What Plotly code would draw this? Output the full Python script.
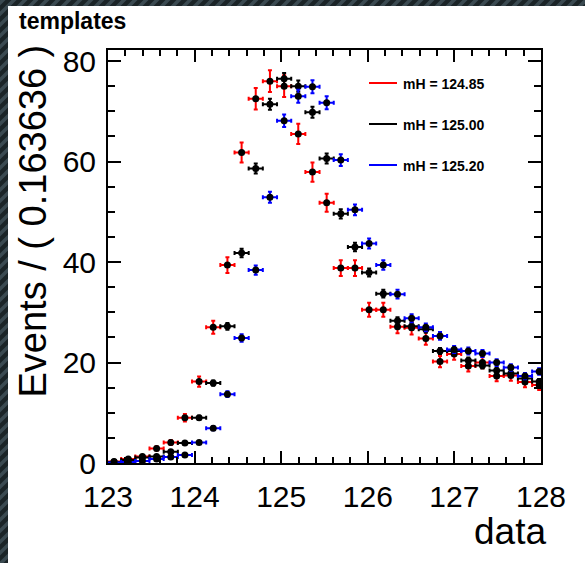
import plotly.graph_objects as go

# ---------------- data ----------------
bin_centers = [123.070, 123.234, 123.397, 123.561, 123.725, 123.888, 124.052,
               124.215, 124.379, 124.543, 124.706, 124.870, 125.034, 125.197,
               125.361, 125.525, 125.688, 125.852, 126.015, 126.179, 126.343,
               126.506, 126.670, 126.834, 126.997, 127.161, 127.324, 127.488,
               127.652, 127.815, 127.979]
bin_half_width = 0.0818

red_y = [0.3, 0.8, 1.3, 2.9, 4.1, 9.0, 16.2, 27.0, 39.4, 61.8, 72.5, 76.0, 75.0,
         65.5, 57.9, 51.8, 38.8, 38.8, 30.5, 30.5, 27.1, 26.9, 24.8, 20.2, 21.7,
         19.3, 20.0, 17.3, 17.4, 16.1, 15.5]
red_err = [0.14, 0.22, 0.29, 0.43, 0.5, 0.75, 1.0, 1.3, 1.57, 1.97, 2.13, 2.18,
           2.17, 2.02, 1.9, 1.8, 1.56, 1.56, 1.38, 1.38, 1.3, 1.3, 1.25, 1.12,
           1.17, 1.1, 1.12, 1.04, 1.04, 1.0, 0.99]

black_y = [0.2, 0.6, 1.1, 1.3, 2.25, 4.0, 9.0, 15.9, 27.2, 41.8, 58.6, 71.4, 76.5,
           75.0, 69.8, 60.6, 49.6, 43.0, 37.9, 33.7, 28.3, 27.2, 26.6, 22.3, 22.3,
           20.4, 19.4, 18.4, 17.8, 16.8, 16.2]
black_err = [0.06, 0.1, 0.14, 0.15, 0.2, 0.26, 0.39, 0.52, 0.68, 0.84, 1.0, 1.1,
             1.14, 1.13, 1.09, 1.01, 0.92, 0.85, 0.8, 0.76, 0.69, 0.68, 0.67, 0.61,
             0.61, 0.59, 0.57, 0.56, 0.55, 0.53, 0.52]

blue_y = [0.1, 0.2, 0.4, 0.8, 1.2, 1.6, 4.1, 6.9, 13.7, 24.9, 38.4, 52.9, 68.1,
          73.0, 74.9, 71.7, 60.3, 50.4, 43.7, 39.4, 33.6, 28.8, 27.0, 25.3, 22.6,
          22.3, 21.8, 20.0, 19.0, 17.3, 18.2]
blue_err = [0.05, 0.07, 0.09, 0.13, 0.16, 0.19, 0.3, 0.39, 0.56, 0.75, 0.93, 1.09,
            1.24, 1.28, 1.3, 1.27, 1.17, 1.07, 0.99, 0.94, 0.87, 0.81, 0.78, 0.75,
            0.71, 0.71, 0.7, 0.67, 0.65, 0.62, 0.64]

series_labels = ["mH = 124.85", "mH = 125.00", "mH = 125.20"]
series_colors = ["#ff0000", "#000000", "#0000ff"]
x_range = [123, 128]
y_range = [0, 82.2]
title_text = "templates"
x_title = "data"
y_title = "Events / ( 0.163636 )"

# ---------------- layout geometry ----------------
W, H = 585, 563
L, R, T, B = 108, 44, 50, 100
PW, PH = W - L - R, H - T - B
FONT = "Liberation Sans, Arial, Helvetica, sans-serif"


def X(px):
    return (px - L) / PW


def Y(py):
    return (H - B - py) / PH


fig = go.Figure()
for ys, es, col, lab in zip([red_y, black_y, blue_y], [red_err, black_err, blue_err],
                            series_colors, series_labels):
    fig.add_trace(go.Scatter(
        x=bin_centers, y=ys, mode="markers", name=lab, showlegend=False,
        marker=dict(color="black", size=7, symbol="circle"),
        error_y=dict(type="data", array=es, visible=True, color=col, thickness=2, width=2),
        error_x=dict(type="constant", value=bin_half_width, visible=True, color=col,
                     thickness=2, width=2),
    ))

shapes = []
# hatched canvas border
for o in range(-20, W + H + 40, 11):
    shapes.append(dict(type="line", xref="paper", yref="paper",
                       x0=X(o), y0=Y(-10), x1=X(o - H - 20), y1=Y(H + 10),
                       line=dict(color="#3b4a51", width=3.5), layer="below"))
shapes.append(dict(type="rect", xref="paper", yref="paper",
                   x0=X(8), y0=Y(6), x1=X(W + 10), y1=Y(H + 10),
                   fillcolor="white", line=dict(width=0), layer="below"))

annotations = []
leg_y = [83, 124, 165]
for ly, col, lab in zip(leg_y, series_colors, series_labels):
    shapes.append(dict(type="line", xref="paper", yref="paper",
                       x0=X(369), x1=X(397), y0=Y(ly), y1=Y(ly),
                       line=dict(color=col, width=2), layer="above"))
    annotations.append(dict(xref="paper", yref="paper", x=X(401), y=Y(ly + 1),
                            xanchor="left", yanchor="middle", showarrow=False,
                            text="<b>%s</b>" % lab,
                            font=dict(family=FONT, size=14, color="black")))

annotations.append(dict(xref="paper", yref="paper", x=X(17), y=Y(21),
                        xanchor="left", yanchor="middle", showarrow=False,
                        text="<b>%s</b>" % title_text,
                        font=dict(family=FONT, size=23, color="black")))
annotations.append(dict(xref="paper", yref="paper", x=X(548), y=Y(531),
                        xanchor="right", yanchor="middle", showarrow=False,
                        text=x_title, font=dict(family=FONT, size=37, color="black")))
annotations.append(dict(xref="paper", yref="paper", x=X(32), y=Y(43),
                        xanchor="center", yanchor="top", showarrow=False, textangle=-90,
                        text=y_title, font=dict(family=FONT, size=38, color="black")))

axis_common = dict(showline=True, linecolor="black", linewidth=2, mirror="ticks",
                   ticks="inside", tickcolor="black", tickwidth=2, showgrid=False,
                   zeroline=False, tickfont=dict(family=FONT, size=30, color="black"))

fig.update_layout(
    width=W, height=H, margin=dict(l=L, r=R, t=T, b=B, autoexpand=False),
    paper_bgcolor="#1b2427", plot_bgcolor="rgba(0,0,0,0)",
    shapes=shapes, annotations=annotations, showlegend=False,
    xaxis=dict(range=x_range, dtick=1, tick0=123, ticklen=12, ticklabelstandoff=6,
               minor=dict(dtick=0.2, ticks="inside", ticklen=6, tickwidth=2, tickcolor="black"),
               **axis_common),
    yaxis=dict(range=y_range, dtick=20, tick0=0, ticklen=13, ticklabelstandoff=4,
               minor=dict(dtick=5, ticks="inside", ticklen=7, tickwidth=2, tickcolor="black"),
               **axis_common),
)

fig.write_html("out.html")
